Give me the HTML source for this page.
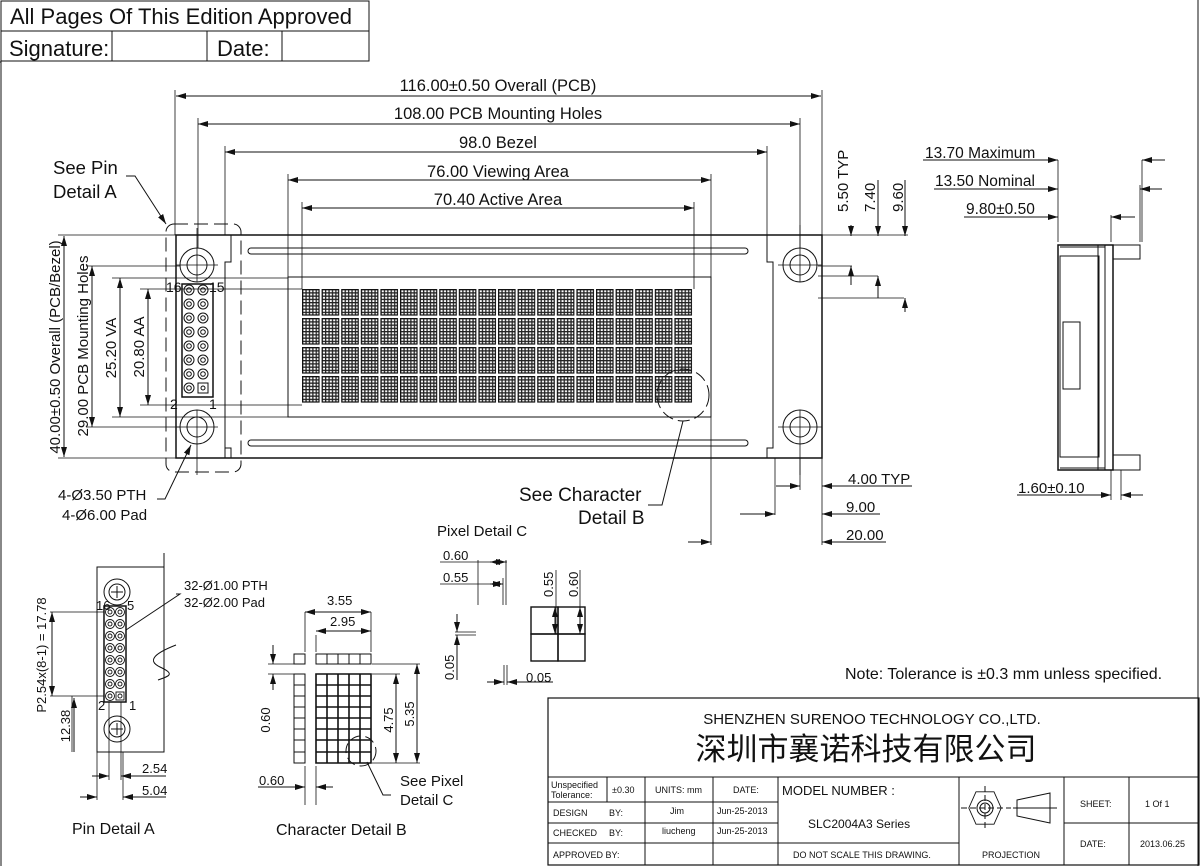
<!DOCTYPE html>
<html><head><meta charset="utf-8"><style>
html,body{margin:0;padding:0;background:#fff}
svg{display:block}
text{font-family:"Liberation Sans","Noto Sans CJK SC",sans-serif;fill:#111}
</style></head><body>
<svg width="1200" height="866" viewBox="0 0 1200 866" xmlns="http://www.w3.org/2000/svg">
<defs>
<marker id="a" viewBox="0 0 10 6" refX="10" refY="3" markerWidth="10" markerHeight="6" orient="auto-start-reverse" markerUnits="userSpaceOnUse"><path d="M0,0L10,3L0,6z" fill="#111"/></marker>
<pattern id="dot" patternUnits="userSpaceOnUse" width="3.4" height="3.25"><rect width="3.4" height="3.25" fill="#fff"/><rect width="3.4" height="1.3" fill="#222"/><rect width="1.3" height="3.25" fill="#222"/></pattern>
<pattern id="chars" patternUnits="userSpaceOnUse" x="302" y="289" width="19.6" height="29"><rect x="0.5" y="0.5" width="16.5" height="25.5" fill="url(#dot)" stroke="#111" stroke-width="1.2"/></pattern>
</defs>
<g fill="none" stroke="#111" stroke-width="1">
<path d="M1,1V866M1198,0V866M1,62H0"/>
<rect x="1" y="1" width="368" height="60"/>
<path d="M1,31H369M112,31V61M207,31V61M282,31V61"/>

<rect x="176" y="235" width="646" height="223" stroke-width="1.5"/>
<rect x="166" y="224" width="75" height="248" rx="8" stroke-dasharray="14,6"/>
<path d="M231,235V262L225,262V458M225,448H231V458" />
<path d="M767,235V262H773V448H767V458"/>
<rect x="288" y="277" width="423" height="140"/>
<rect x="248" y="248" width="500" height="6" rx="3"/>
<rect x="248" y="440" width="500" height="6" rx="3"/>
<circle cx="197" cy="265" r="17"/><circle cx="197" cy="265" r="10"/>
<circle cx="197" cy="427" r="17"/><circle cx="197" cy="427" r="10"/>
<circle cx="800" cy="265" r="17"/><circle cx="800" cy="265" r="10"/>
<circle cx="800" cy="427" r="17"/><circle cx="800" cy="427" r="10"/>
<path d="M176,265H218M197,228V282M176,427H218M197,410V475M778,265H822M800,225V282M778,427H822M800,410V475" stroke-width="0.8"/>
<rect x="182" y="284" width="31" height="113" stroke-width="1.5"/>
</g>
<rect x="302" y="289" width="392" height="116" fill="url(#chars)"/>
<g fill="none" stroke="#111" stroke-width="1">
<circle cx="189" cy="290" r="5"/><circle cx="189" cy="290" r="2.3"/><circle cx="203" cy="290" r="5"/><circle cx="203" cy="290" r="2.3"/>
<circle cx="189" cy="304" r="5"/><circle cx="189" cy="304" r="2.3"/><circle cx="203" cy="304" r="5"/><circle cx="203" cy="304" r="2.3"/>
<circle cx="189" cy="318" r="5"/><circle cx="189" cy="318" r="2.3"/><circle cx="203" cy="318" r="5"/><circle cx="203" cy="318" r="2.3"/>
<circle cx="189" cy="332" r="5"/><circle cx="189" cy="332" r="2.3"/><circle cx="203" cy="332" r="5"/><circle cx="203" cy="332" r="2.3"/>
<circle cx="189" cy="346" r="5"/><circle cx="189" cy="346" r="2.3"/><circle cx="203" cy="346" r="5"/><circle cx="203" cy="346" r="2.3"/>
<circle cx="189" cy="360" r="5"/><circle cx="189" cy="360" r="2.3"/><circle cx="203" cy="360" r="5"/><circle cx="203" cy="360" r="2.3"/>
<circle cx="189" cy="374" r="5"/><circle cx="189" cy="374" r="2.3"/><circle cx="203" cy="374" r="5"/><circle cx="203" cy="374" r="2.3"/>
<circle cx="189" cy="388" r="5"/><circle cx="189" cy="388" r="2.3"/><rect x="198" y="383" width="10" height="10"/><circle cx="203" cy="388" r="2"/>
<circle cx="683" cy="395" r="26" stroke-dasharray="12,5"/>

<path d="M175,235V90M198,248V118M225,235V146M288,277V174M302,289V202M822,235V90M800,248V118M767,235V146M711,277V174M694,289V202" stroke-width="0.8"/>
<path d="M176,96H821" marker-start="url(#a)" marker-end="url(#a)"/>
<path d="M198,124H800" marker-start="url(#a)" marker-end="url(#a)"/>
<path d="M225,152H767" marker-start="url(#a)" marker-end="url(#a)"/>
<path d="M288,180H711" marker-start="url(#a)" marker-end="url(#a)"/>
<path d="M302,208H694" marker-start="url(#a)" marker-end="url(#a)"/>
<path d="M58,235H176M86,266H180M112,278H288M140,289H302M58,458H176M86,427H180M112,417H288M140,405H302" stroke-width="0.8"/>
<path d="M64,236V457" marker-start="url(#a)" marker-end="url(#a)"/>
<path d="M92,266V427" marker-start="url(#a)" marker-end="url(#a)"/>
<path d="M120,278V417" marker-start="url(#a)" marker-end="url(#a)"/>
<path d="M148,289V405" marker-start="url(#a)" marker-end="url(#a)"/>
<path d="M822,235H908M818,266H852M818,276H878M818,298H904" stroke-width="0.8"/>
<path d="M851,225V236" marker-end="url(#a)"/><path d="M851,285V266" marker-end="url(#a)"/>
<path d="M878,180V236" marker-end="url(#a)"/><path d="M878,298V276" marker-end="url(#a)"/>
<path d="M905,180V236" marker-end="url(#a)"/><path d="M905,312V298" marker-end="url(#a)"/>
<path d="M800,458V490M822,458V545M775,458V515M711,417V545" stroke-width="0.8"/>
<path d="M776,486H800" marker-end="url(#a)"/><path d="M912,486H822" marker-end="url(#a)"/>
<path d="M740,514H775" marker-end="url(#a)"/><path d="M880,514H822" marker-end="url(#a)"/>
<path d="M688,542H711" marker-end="url(#a)"/><path d="M886,542H822" marker-end="url(#a)"/>
<path d="M126,176H135L166,224" marker-end="url(#a)"/>
<path d="M157,499H165L191,445" marker-end="url(#a)"/>
<path d="M648,505H662L683,421"/>

<rect x="1058" y="245" width="55" height="225" stroke-width="1.5"/>
<path d="M1060,247H1105M1060,468H1105M1105,245V470M1098,245V470"/>
<rect x="1060" y="256" width="39" height="201"/>
<rect x="1063" y="322" width="17" height="67"/>
<path d="M1113,245H1140V259H1113M1113,455H1140V470H1113"/>
<path d="M1058,242V160M1142,242V160M1140,242V185M1111,242V215" stroke-width="0.8"/>
<path d="M923,160H1058" marker-end="url(#a)"/><path d="M1165,160H1142" marker-end="url(#a)"/>
<path d="M934,189H1058" marker-end="url(#a)"/><path d="M1162,189H1140" marker-end="url(#a)"/>
<path d="M964,217H1058" marker-end="url(#a)"/><path d="M1135,217H1111" marker-end="url(#a)"/>
<path d="M1111,470V500M1121,470V500" stroke-width="0.8"/>
<path d="M1017,495H1111" marker-end="url(#a)"/><path d="M1143,495H1121" marker-end="url(#a)"/>

<path d="M164,553V752H97V567H164"/>
<circle cx="117" cy="592" r="13"/><circle cx="117" cy="592" r="8"/><path d="M111,592H123M117,586V598"/>
<circle cx="117" cy="729" r="13"/><circle cx="117" cy="729" r="8"/><path d="M111,729H123M117,723V735"/>
<rect x="104" y="606" width="22" height="96" stroke-width="1.5"/>
<g stroke-width="0.9">
<circle cx="110" cy="612" r="4.5"/><circle cx="120" cy="612" r="4.5"/><circle cx="110" cy="624" r="4.5"/><circle cx="120" cy="624" r="4.5"/>
<circle cx="110" cy="636" r="4.5"/><circle cx="120" cy="636" r="4.5"/><circle cx="110" cy="648" r="4.5"/><circle cx="120" cy="648" r="4.5"/>
<circle cx="110" cy="660" r="4.5"/><circle cx="120" cy="660" r="4.5"/><circle cx="110" cy="672" r="4.5"/><circle cx="120" cy="672" r="4.5"/>
<circle cx="110" cy="684" r="4.5"/><circle cx="120" cy="684" r="4.5"/><circle cx="110" cy="696" r="4.5"/><rect x="116" y="692" width="8" height="8"/>
<circle cx="110" cy="612" r="2"/><circle cx="120" cy="612" r="2"/><circle cx="110" cy="624" r="2"/><circle cx="120" cy="624" r="2"/>
<circle cx="110" cy="636" r="2"/><circle cx="120" cy="636" r="2"/><circle cx="110" cy="648" r="2"/><circle cx="120" cy="648" r="2"/>
<circle cx="110" cy="660" r="2"/><circle cx="120" cy="660" r="2"/><circle cx="110" cy="672" r="2"/><circle cx="120" cy="672" r="2"/>
<circle cx="110" cy="684" r="2"/><circle cx="120" cy="684" r="2"/><circle cx="110" cy="696" r="2"/><circle cx="120" cy="696" r="2"/>
</g>
<path d="M176,645C158,652 145,660 160,667S170,676 158,680" />
<path d="M176,594H180L126,630"/>
<path d="M50,612H104M50,696H104M72,696V752" stroke-width="0.8"/>
<path d="M52,612V696" marker-start="url(#a)" marker-end="url(#a)"/>
<path d="M74,698V752" marker-start="url(#a)"/>
<path d="M109,702V780M121,702V780M97,752V800M123,752V800" stroke-width="0.8"/>
<path d="M92,776H109" marker-end="url(#a)"/><path d="M166,776H121" marker-end="url(#a)"/>
<path d="M80,797H97" marker-end="url(#a)"/><path d="M166,797H123" marker-end="url(#a)"/>

<rect x="294" y="654" width="11" height="10"/>
<path d="M316,654H371V664H316ZM327,654V664M338,654V664M349,654V664M360,654V664"/>
<path d="M294,674H305V763H294Z M294,685H305M294,696H305M294,707H305M294,718H305M294,729H305M294,740H305M294,752H305"/>
<path d="M316,674H371V763H316Z M327,674V763M338,674V763M349,674V763M360,674V763 M316,685H371M316,696H371M316,707H371M316,718H371M316,729H371M316,740H371M316,752H371" stroke-width="1.6"/>
<circle cx="361" cy="751" r="15" stroke-dasharray="10,5"/>
<path d="M391,795H383L367,762"/>
<path d="M305,612V652M371,612V652M316,635V652" stroke-width="0.8"/>
<path d="M305,612H371" marker-start="url(#a)" marker-end="url(#a)"/>
<path d="M316,631H371" marker-start="url(#a)" marker-end="url(#a)"/>
<path d="M372,664H420M372,674H400M372,763H420" stroke-width="0.8"/>
<path d="M396,674V763" marker-start="url(#a)" marker-end="url(#a)"/>
<path d="M417,664V763" marker-start="url(#a)" marker-end="url(#a)"/>
<path d="M268,664H294M268,674H294" stroke-width="0.8"/>
<path d="M273,645V664" marker-end="url(#a)"/><path d="M273,690V674" marker-end="url(#a)"/>
<path d="M305,766V805M316,766V805" stroke-width="0.8"/>
<path d="M258,787H305" marker-end="url(#a)"/><path d="M333,787H316" marker-end="url(#a)"/>

<g stroke-width="1.4">
<rect x="531" y="607" width="27" height="27"/><rect x="558" y="607" width="27" height="27"/>
<rect x="531" y="634" width="27" height="27"/><rect x="558" y="634" width="27" height="27"/>
</g>
<path d="M440,562H507M440,584H503M478,560V605M506,560V605M503,578V605" stroke-width="0.8"/>
<path d="M490,562H506" marker-start="url(#a)" marker-end="url(#a)"/>
<path d="M490,584H503" marker-start="url(#a)" marker-end="url(#a)"/>
<path d="M556,570V634M580,570V634" stroke-width="0.8"/>
<path d="M555,607V634" marker-start="url(#a)" marker-end="url(#a)"/>
<path d="M580,607V634" marker-start="url(#a)" marker-end="url(#a)"/>
<path d="M455,632H476M455,635H476" stroke-width="0.8"/>
<path d="M457,614V632" marker-end="url(#a)"/><path d="M457,680V635" marker-end="url(#a)"/>
<path d="M504,665V685M507,665V685" stroke-width="0.8"/>
<path d="M487,682H504" marker-end="url(#a)"/><path d="M553,682H507" marker-end="url(#a)"/>

<rect x="548" y="698" width="651" height="167" stroke-width="1.2"/>
<path d="M548,777H1199M548,802H778M548,823H778M548,843H959M607,777V802M645,777V865M713,777V865M778,777V865M959,777V865M1064,777V865M1129,777V865M1064,823H1199"/>
<g transform="translate(985,808)">
<path d="M-10,-18L10,-18L18,0L10,18L-10,18L-18,0Z" transform="scale(0.9)"/>
<circle r="8"/><circle r="5"/>
<path d="M-24,0H26M0,-22V22" stroke-dasharray="6,3"/>
<path d="M32,-8L65,-15V15L32,8Z M28,0H72" />
</g>
</g>

<text x="10" y="24" font-size="22">All Pages Of This Edition Approved</text>
<text x="9" y="56" font-size="22">Signature:</text>
<text x="217" y="56" font-size="22">Date:</text>

<g font-size="16.5" text-anchor="middle">
<text x="498" y="91">116.00±0.50 Overall (PCB)</text>
<text x="498" y="119">108.00 PCB Mounting Holes</text>
<text x="498" y="148">98.0 Bezel</text>
<text x="498" y="177">76.00 Viewing Area</text>
<text x="498" y="205">70.40 Active Area</text>
</g>
<g font-size="15">
<text transform="translate(60,347) rotate(-90)" text-anchor="middle">40.00±0.50 Overall (PCB/Bezel)</text>
<text transform="translate(88,346) rotate(-90)" text-anchor="middle">29.00 PCB Mounting Holes</text>
<text transform="translate(116,348) rotate(-90)" text-anchor="middle">25.20 VA</text>
<text transform="translate(144,347) rotate(-90)" text-anchor="middle">20.80 AA</text>
<text transform="translate(848,212) rotate(-90)">5.50 TYP</text>
<text transform="translate(875,212) rotate(-90)">7.40</text>
<text transform="translate(903,212) rotate(-90)">9.60</text>
<text x="848" y="484">4.00 TYP</text>
<text x="846" y="512">9.00</text>
<text x="846" y="540">20.00</text>
<text x="925" y="158" font-size="15.5">13.70 Maximum</text>
<text x="935" y="186" font-size="15.5">13.50 Nominal</text>
<text x="966" y="214" font-size="15.5">9.80±0.50</text>
<text x="1018" y="493">1.60±0.10</text>
<text x="53" y="174" font-size="18.5">See Pin</text>
<text x="53" y="198" font-size="18.5">Detail A</text>
<text x="58" y="500">4-Ø3.50 PTH</text>
<text x="62" y="520">4-Ø6.00 Pad</text>
<text x="519" y="501" font-size="19">See Character</text>
<text x="578" y="524" font-size="19">Detail B</text>
<text x="166" y="292" font-size="14">16</text>
<text x="209" y="292" font-size="14">15</text>
<text x="170" y="409" font-size="14">2</text>
<text x="209" y="409" font-size="14">1</text>
<text x="184" y="590" font-size="13">32-Ø1.00 PTH</text>
<text x="184" y="607" font-size="13">32-Ø2.00 Pad</text>
<text x="96" y="610" font-size="13">16</text>
<text x="127" y="610" font-size="13">5</text>
<text x="98" y="710" font-size="13">2</text>
<text x="129" y="710" font-size="13">1</text>
<text transform="translate(46,655) rotate(-90)" text-anchor="middle" font-size="13">P2.54x(8-1) = 17.78</text>
<text transform="translate(70,726) rotate(-90)" text-anchor="middle" font-size="13">12.38</text>
<text x="142" y="773" font-size="13">2.54</text>
<text x="142" y="795" font-size="13">5.04</text>
<text x="72" y="834" font-size="16">Pin Detail A</text>
<text x="327" y="605" font-size="13">3.55</text>
<text x="330" y="626" font-size="13">2.95</text>
<text transform="translate(270,720) rotate(-90)" text-anchor="middle" font-size="13">0.60</text>
<text transform="translate(393,720) rotate(-90)" text-anchor="middle" font-size="13">4.75</text>
<text transform="translate(414,714) rotate(-90)" text-anchor="middle" font-size="13">5.35</text>
<text x="259" y="785" font-size="13">0.60</text>
<text x="400" y="786">See Pixel</text>
<text x="400" y="805">Detail C</text>
<text x="276" y="835" font-size="16">Character Detail B</text>
<text x="437" y="536">Pixel Detail C</text>
<text x="443" y="560" font-size="13">0.60</text>
<text x="443" y="582" font-size="13">0.55</text>
<text transform="translate(553,597) rotate(-90)" font-size="13">0.55</text>
<text transform="translate(578,597) rotate(-90)" font-size="13">0.60</text>
<text transform="translate(454,680) rotate(-90)" font-size="13">0.05</text>
<text x="526" y="682" font-size="13">0.05</text>
<text x="845" y="679" font-size="16">Note: Tolerance is ±0.3 mm unless specified.</text>
</g>
<text x="872" y="724" font-size="15" text-anchor="middle">SHENZHEN SURENOO TECHNOLOGY CO.,LTD.</text>
<text x="866" y="760" font-size="31" text-anchor="middle">深圳市襄诺科技有限公司</text>
<g font-size="9">
<text x="551" y="788">Unspecified</text><text x="551" y="798">Tolerance:</text>
<text x="612" y="793">±0.30</text>
<text x="655" y="793">UNITS: mm</text>
<text x="733" y="793">DATE:</text>
<text x="553" y="816">DESIGN</text><text x="609" y="816">BY:</text>
<text x="670" y="814">Jim</text>
<text x="717" y="814">Jun-25-2013</text>
<text x="553" y="836">CHECKED</text><text x="609" y="836">BY:</text>
<text x="662" y="834">liucheng</text>
<text x="717" y="834">Jun-25-2013</text>
<text x="553" y="858">APPROVED BY:</text>
<text x="793" y="858">DO NOT SCALE THIS DRAWING.</text>
<text x="982" y="858">PROJECTION</text>
<text x="1080" y="807">SHEET:</text>
<text x="1145" y="807">1 Of 1</text>
<text x="1080" y="847">DATE:</text>
<text x="1140" y="847">2013.06.25</text>
</g>
<text x="782" y="795" font-size="13">MODEL NUMBER :</text>
<text x="808" y="828" font-size="12">SLC2004A3 Series</text>
</svg>
</body></html>
